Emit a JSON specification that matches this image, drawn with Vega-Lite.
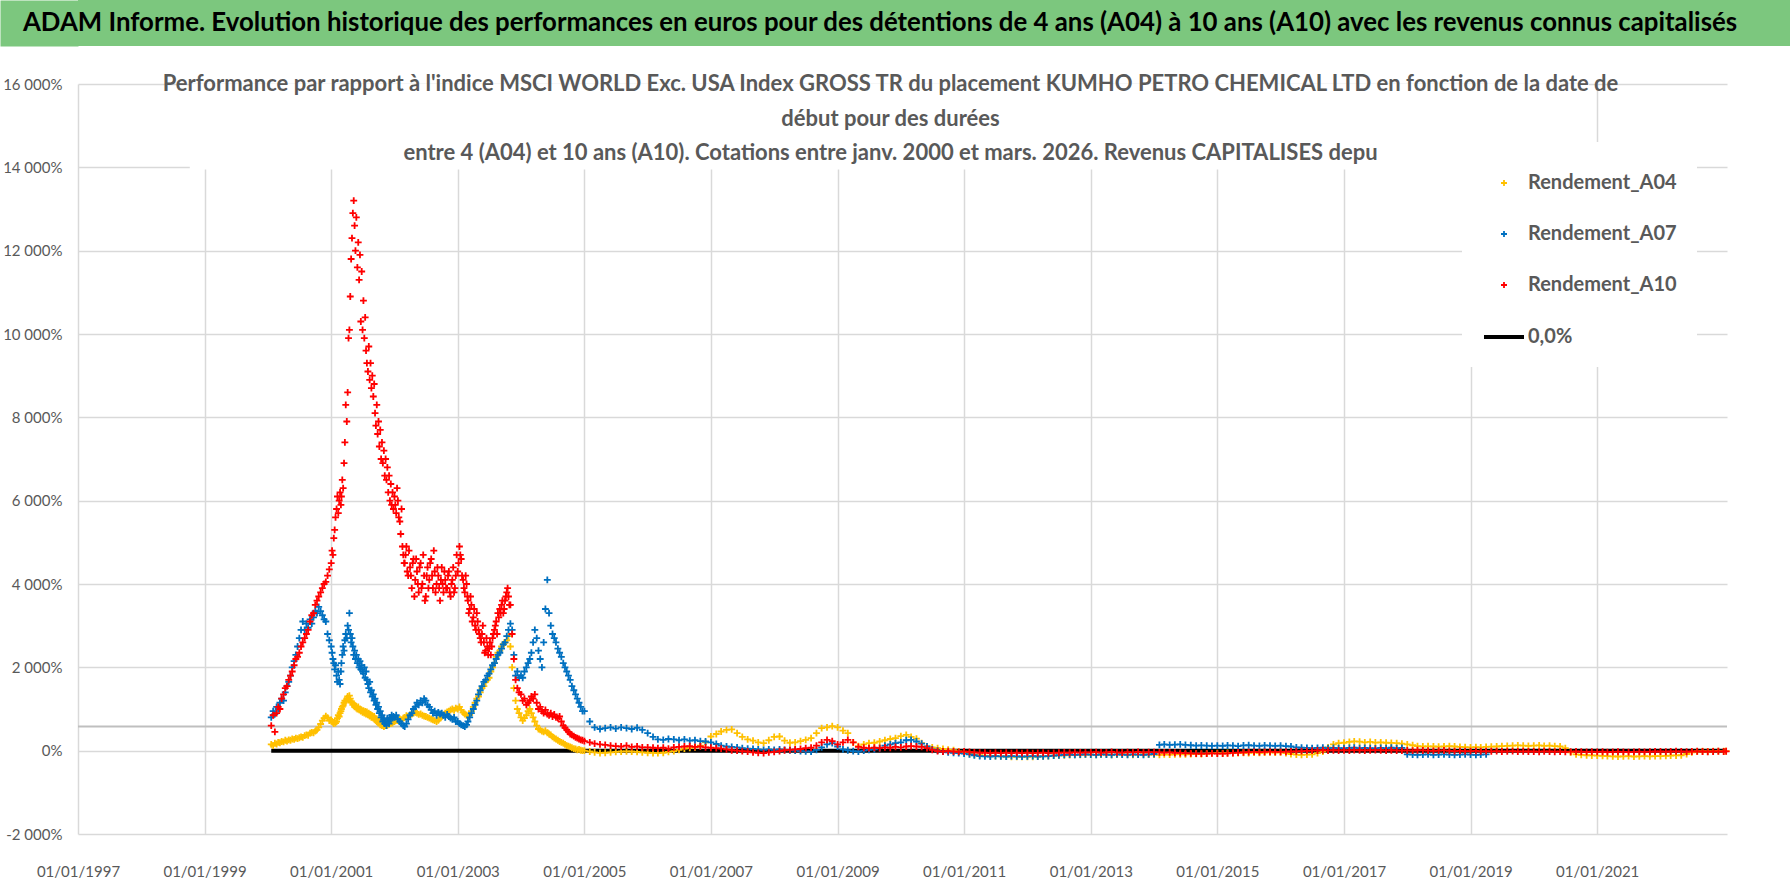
{
"$schema":"https://vega.github.io/schema/vega-lite/v6.json",
"padding":0,
"spacing":27,
"background":"white",
"config":{"view":{"stroke":null},"font":"Lato"},
"datasets":{
"zero":[{"d":"2000-01-21","v":0},{"d":"2023-01-15","v":0}],
"pts":[
{"d":"2000-01-21","A04":150,"A07":800,"A10":600},
{"d":"2000-02-01","A04":120,"A07":950,"A10":850},
{"d":"2000-02-11","A04":180,"A07":880,"A10":450},
{"d":"2000-02-21","A04":160,"A07":1050,"A10":900},
{"d":"2000-03-01","A04":200,"A07":1000,"A10":1050},
{"d":"2000-03-11","A04":190,"A07":1150,"A10":1000},
{"d":"2000-03-21","A04":220,"A07":1250,"A10":1250},
{"d":"2000-04-01","A04":210,"A07":1200,"A10":1350},
{"d":"2000-04-11","A04":250,"A07":1400,"A10":1500},
{"d":"2000-04-21","A04":230,"A07":1550,"A10":1550},
{"d":"2000-05-01","A04":260,"A07":1650,"A10":1700},
{"d":"2000-05-11","A04":250,"A07":1800,"A10":1800},
{"d":"2000-05-21","A04":280,"A07":2000,"A10":1900},
{"d":"2000-06-01","A04":270,"A07":2150,"A10":2050},
{"d":"2000-06-11","A04":300,"A07":2300,"A10":2200},
{"d":"2000-06-21","A04":290,"A07":2500,"A10":2250},
{"d":"2000-07-01","A04":310,"A07":2700,"A10":2350},
{"d":"2000-07-11","A04":330,"A07":2900,"A10":2500},
{"d":"2000-07-21","A04":320,"A07":3100,"A10":2600},
{"d":"2000-08-01","A04":360,"A07":2900,"A10":2700},
{"d":"2000-08-11","A04":380,"A07":3050,"A10":2800},
{"d":"2000-08-21","A04":370,"A07":2950,"A10":2900},
{"d":"2000-09-01","A04":420,"A07":3150,"A10":3100},
{"d":"2000-09-11","A04":440,"A07":3050,"A10":3250},
{"d":"2000-09-21","A04":430,"A07":3200,"A10":3300},
{"d":"2000-10-01","A04":470,"A07":3350,"A10":3500},
{"d":"2000-10-11","A04":500,"A07":3300,"A10":3600},
{"d":"2000-10-21","A04":560,"A07":3450,"A10":3700},
{"d":"2000-11-01","A04":640,"A07":3350,"A10":3800},
{"d":"2000-11-11","A04":720,"A07":3250,"A10":3900},
{"d":"2000-11-21","A04":780,"A07":3150,"A10":4000},
{"d":"2000-12-01","A04":830,"A07":3100,"A10":4050},
{"d":"2000-12-11","A04":790,"A07":2800,"A10":4200},
{"d":"2000-12-21","A04":720,"A07":2650,"A10":4350},
{"d":"2001-01-01","A04":740,"A07":2500,"A10":4500},
{"d":"2001-01-06","A04":700,"A07":2350,"A10":4800},
{"d":"2001-01-11","A04":680,"A07":2200,"A10":4700},
{"d":"2001-01-16","A04":650,"A07":2100,"A10":5100},
{"d":"2001-01-21","A04":690,"A07":1950,"A10":5300},
{"d":"2001-01-26","A04":660,"A07":2050,"A10":5600},
{"d":"2001-02-01","A04":700,"A07":1800,"A10":5800},
{"d":"2001-02-06","A04":780,"A07":1650,"A10":6100},
{"d":"2001-02-11","A04":850,"A07":1900,"A10":5700},
{"d":"2001-02-16","A04":820,"A07":1700,"A10":6000},
{"d":"2001-02-21","A04":900,"A07":1600,"A10":6200},
{"d":"2001-02-26","A04":950,"A07":1900,"A10":5900},
{"d":"2001-03-01","A04":1000,"A07":2100,"A10":6100},
{"d":"2001-03-06","A04":1050,"A07":2300,"A10":6500},
{"d":"2001-03-11","A04":1080,"A07":2500,"A10":6300},
{"d":"2001-03-16","A04":1150,"A07":2400,"A10":6900},
{"d":"2001-03-21","A04":1200,"A07":2650,"A10":7400},
{"d":"2001-03-26","A04":1180,"A07":2800,"A10":8300},
{"d":"2001-04-01","A04":1250,"A07":2700,"A10":7900},
{"d":"2001-04-06","A04":1300,"A07":3000,"A10":8600},
{"d":"2001-04-11","A04":1220,"A07":2900,"A10":9900},
{"d":"2001-04-16","A04":1320,"A07":3300,"A10":10100},
{"d":"2001-04-21","A04":1250,"A07":2800,"A10":10900},
{"d":"2001-04-26","A04":1180,"A07":2600,"A10":11800},
{"d":"2001-05-01","A04":1150,"A07":2700,"A10":12300},
{"d":"2001-05-06","A04":1100,"A07":2500,"A10":12900},
{"d":"2001-05-11","A04":1120,"A07":2300,"A10":13200},
{"d":"2001-05-16","A04":1050,"A07":2400,"A10":12600},
{"d":"2001-05-21","A04":1080,"A07":2200,"A10":12000},
{"d":"2001-05-26","A04":1020,"A07":2300,"A10":12800},
{"d":"2001-06-01","A04":1000,"A07":2100,"A10":11600},
{"d":"2001-06-06","A04":1050,"A07":2200,"A10":12200},
{"d":"2001-06-11","A04":980,"A07":2000,"A10":11300},
{"d":"2001-06-16","A04":1000,"A07":2150,"A10":11900},
{"d":"2001-06-21","A04":950,"A07":1950,"A10":10300},
{"d":"2001-06-26","A04":970,"A07":2050,"A10":11500},
{"d":"2001-07-01","A04":920,"A07":1900,"A10":10100},
{"d":"2001-07-06","A04":960,"A07":1850,"A10":10800},
{"d":"2001-07-11","A04":900,"A07":2000,"A10":9900},
{"d":"2001-07-16","A04":940,"A07":1750,"A10":10400},
{"d":"2001-07-21","A04":880,"A07":1900,"A10":9600},
{"d":"2001-07-26","A04":930,"A07":1700,"A10":9300},
{"d":"2001-08-01","A04":860,"A07":1600,"A10":9100},
{"d":"2001-08-06","A04":900,"A07":1500,"A10":9700},
{"d":"2001-08-11","A04":830,"A07":1650,"A10":8900},
{"d":"2001-08-16","A04":870,"A07":1400,"A10":9300},
{"d":"2001-08-21","A04":800,"A07":1450,"A10":8700},
{"d":"2001-08-26","A04":840,"A07":1300,"A10":9000},
{"d":"2001-09-01","A04":780,"A07":1350,"A10":8500},
{"d":"2001-09-06","A04":820,"A07":1200,"A10":8800},
{"d":"2001-09-11","A04":740,"A07":1250,"A10":8100},
{"d":"2001-09-16","A04":760,"A07":1100,"A10":7800},
{"d":"2001-09-21","A04":700,"A07":1150,"A10":8300},
{"d":"2001-09-26","A04":720,"A07":1000,"A10":7600},
{"d":"2001-10-01","A04":660,"A07":1050,"A10":7900},
{"d":"2001-10-06","A04":700,"A07":900,"A10":7300},
{"d":"2001-10-11","A04":620,"A07":950,"A10":7700},
{"d":"2001-10-16","A04":650,"A07":800,"A10":7000},
{"d":"2001-10-21","A04":600,"A07":850,"A10":7400},
{"d":"2001-10-26","A04":630,"A07":700,"A10":6900},
{"d":"2001-11-01","A04":580,"A07":750,"A10":7200},
{"d":"2001-11-06","A04":620,"A07":650,"A10":6600},
{"d":"2001-11-11","A04":600,"A07":700,"A10":7000},
{"d":"2001-11-16","A04":640,"A07":600,"A10":6500},
{"d":"2001-11-21","A04":610,"A07":780,"A10":6800},
{"d":"2001-11-26","A04":650,"A07":700,"A10":6200},
{"d":"2001-12-01","A04":630,"A07":650,"A10":6600},
{"d":"2001-12-06","A04":670,"A07":800,"A10":6000},
{"d":"2001-12-11","A04":650,"A07":750,"A10":6400},
{"d":"2001-12-16","A04":690,"A07":850,"A10":5900},
{"d":"2001-12-21","A04":660,"A07":780,"A10":6200},
{"d":"2001-12-26","A04":700,"A07":820,"A10":5800},
{"d":"2002-01-01","A04":700,"A07":800,"A10":6100},
{"d":"2002-01-06","A10":5900},
{"d":"2002-01-11","A04":730,"A07":850,"A10":5700},
{"d":"2002-01-16","A10":6300},
{"d":"2002-01-21","A04":720,"A07":750,"A10":6000},
{"d":"2002-01-26","A10":5600},
{"d":"2002-02-01","A04":760,"A07":700,"A10":5500},
{"d":"2002-02-06","A10":5200},
{"d":"2002-02-11","A04":740,"A07":650,"A10":5800},
{"d":"2002-02-16","A10":4900},
{"d":"2002-02-21","A04":780,"A07":600,"A10":4700},
{"d":"2002-02-26","A10":4500},
{"d":"2002-03-01","A04":800,"A07":580,"A10":4500},
{"d":"2002-03-06","A10":4700},
{"d":"2002-03-11","A04":840,"A07":650,"A10":4900},
{"d":"2002-03-16","A10":4300},
{"d":"2002-03-21","A04":820,"A07":750,"A10":4200},
{"d":"2002-03-26","A10":4800},
{"d":"2002-04-01","A04":860,"A07":850,"A10":4400},
{"d":"2002-04-06","A10":4200},
{"d":"2002-04-11","A04":880,"A07":900,"A10":3900},
{"d":"2002-04-16","A10":4500},
{"d":"2002-04-21","A04":900,"A07":1000,"A10":4600},
{"d":"2002-04-26","A10":3700},
{"d":"2002-05-01","A04":920,"A07":1050,"A10":4100},
{"d":"2002-05-06","A10":4600},
{"d":"2002-05-11","A04":900,"A07":1150,"A10":4300},
{"d":"2002-05-16","A10":4000},
{"d":"2002-05-21","A04":870,"A07":1100,"A10":3800},
{"d":"2002-05-26","A10":4400},
{"d":"2002-06-01","A04":880,"A07":1200,"A10":4500},
{"d":"2002-06-06","A10":3900},
{"d":"2002-06-11","A04":850,"A07":1150,"A10":4000},
{"d":"2002-06-16","A10":4700},
{"d":"2002-06-21","A04":830,"A07":1250,"A10":4200},
{"d":"2002-06-26","A10":3600},
{"d":"2002-07-01","A04":820,"A07":1200,"A10":3700},
{"d":"2002-07-06","A10":4200},
{"d":"2002-07-11","A04":800,"A07":1100,"A10":4400},
{"d":"2002-07-16","A10":3900},
{"d":"2002-07-21","A04":780,"A07":1050,"A10":4100},
{"d":"2002-07-26","A10":4500},
{"d":"2002-08-01","A04":760,"A07":980,"A10":4600},
{"d":"2002-08-06","A10":4200},
{"d":"2002-08-11","A04":740,"A07":900,"A10":3900},
{"d":"2002-08-16","A10":4800},
{"d":"2002-08-21","A04":720,"A07":950,"A10":4300},
{"d":"2002-08-26","A10":3800},
{"d":"2002-09-01","A04":700,"A07":850,"A10":4000},
{"d":"2002-09-06","A10":4400},
{"d":"2002-09-11","A04":730,"A07":920,"A10":4200},
{"d":"2002-09-16","A10":3900},
{"d":"2002-09-21","A04":780,"A07":880,"A10":3600},
{"d":"2002-09-26","A10":4100},
{"d":"2002-10-01","A04":820,"A07":900,"A10":4400},
{"d":"2002-10-06","A10":4000},
{"d":"2002-10-11","A04":860,"A07":850,"A10":3800},
{"d":"2002-10-16","A10":4300},
{"d":"2002-10-21","A04":900,"A07":800,"A10":4100},
{"d":"2002-10-26","A10":3900},
{"d":"2002-11-01","A04":930,"A07":870,"A10":3900},
{"d":"2002-11-06","A10":4200},
{"d":"2002-11-11","A04":950,"A07":820,"A10":4300},
{"d":"2002-11-16","A10":3800},
{"d":"2002-11-21","A04":980,"A07":780,"A10":3700},
{"d":"2002-11-26","A10":4000},
{"d":"2002-12-01","A04":1000,"A07":750,"A10":4100},
{"d":"2002-12-06","A10":4400},
{"d":"2002-12-11","A04":970,"A07":800,"A10":3800},
{"d":"2002-12-16","A10":3900},
{"d":"2002-12-21","A04":1020,"A07":700,"A10":4200},
{"d":"2002-12-26","A10":4700},
{"d":"2003-01-01","A04":1000,"A07":700,"A10":4300},
{"d":"2003-01-06","A10":4500},
{"d":"2003-01-11","A04":1050,"A07":650,"A10":4900},
{"d":"2003-01-16","A10":4700},
{"d":"2003-01-21","A04":980,"A07":620,"A10":4600},
{"d":"2003-01-26","A10":4200},
{"d":"2003-02-01","A04":920,"A07":600,"A10":4100},
{"d":"2003-02-06","A10":3900},
{"d":"2003-02-11","A04":880,"A07":580,"A10":3800},
{"d":"2003-02-16","A10":4200},
{"d":"2003-02-21","A04":850,"A07":620,"A10":4000},
{"d":"2003-02-26","A10":3700},
{"d":"2003-03-01","A04":830,"A07":700,"A10":3600},
{"d":"2003-03-06","A10":3300},
{"d":"2003-03-11","A04":860,"A07":800,"A10":3400},
{"d":"2003-03-16","A10":3700},
{"d":"2003-03-21","A04":950,"A07":900,"A10":3500},
{"d":"2003-03-26","A10":3100},
{"d":"2003-04-01","A04":1050,"A07":1000,"A10":3200},
{"d":"2003-04-06","A10":3400},
{"d":"2003-04-11","A04":1150,"A07":1100,"A10":3000},
{"d":"2003-04-16","A10":2900},
{"d":"2003-04-21","A04":1250,"A07":1200,"A10":3300},
{"d":"2003-04-26","A10":3100},
{"d":"2003-05-01","A04":1300,"A07":1350,"A10":2900},
{"d":"2003-05-06","A10":2800},
{"d":"2003-05-11","A04":1400,"A07":1450,"A10":2700},
{"d":"2003-05-16","A10":2600},
{"d":"2003-05-21","A04":1500,"A07":1550,"A10":2800},
{"d":"2003-05-26","A10":3000},
{"d":"2003-06-01","A04":1550,"A07":1650,"A10":2600},
{"d":"2003-06-06","A10":2350},
{"d":"2003-06-11","A04":1650,"A07":1700,"A10":2400},
{"d":"2003-06-16","A10":2700},
{"d":"2003-06-21","A04":1700,"A07":1800,"A10":2500},
{"d":"2003-06-26","A10":2300},
{"d":"2003-07-01","A04":1750,"A07":1850,"A10":2450},
{"d":"2003-07-06","A10":2600},
{"d":"2003-07-11","A04":1900,"A07":1950,"A10":2300},
{"d":"2003-07-16","A10":2500},
{"d":"2003-07-21","A04":2000,"A07":2050,"A10":2700},
{"d":"2003-07-26","A10":2800},
{"d":"2003-08-01","A04":2100,"A07":2100,"A10":2900},
{"d":"2003-08-06","A10":3000},
{"d":"2003-08-11","A04":2250,"A07":2200,"A10":3100},
{"d":"2003-08-16","A10":2800},
{"d":"2003-08-21","A04":2350,"A07":2300,"A10":3300},
{"d":"2003-08-26","A10":3200},
{"d":"2003-09-01","A04":2400,"A07":2350,"A10":3400},
{"d":"2003-09-06","A10":3300},
{"d":"2003-09-11","A04":2500,"A07":2450,"A10":3500},
{"d":"2003-09-16","A10":3600},
{"d":"2003-09-21","A04":2550,"A07":2550,"A10":3300},
{"d":"2003-09-26","A10":3400},
{"d":"2003-10-01","A04":2600,"A07":2600,"A10":3600},
{"d":"2003-10-06","A10":3700},
{"d":"2003-10-11","A04":2650,"A07":2750,"A10":3800},
{"d":"2003-10-16","A10":3900},
{"d":"2003-10-21","A04":2750,"A07":2900,"A10":3700},
{"d":"2003-10-26","A10":3500},
{"d":"2003-11-01","A04":2500,"A07":3050,"A10":3500},
{"d":"2003-11-11","A04":2000,"A07":2900,"A10":2800},
{"d":"2003-11-21","A04":1500,"A07":2300,"A10":2200},
{"d":"2003-12-01","A04":1200,"A07":1800,"A10":1700},
{"d":"2003-12-11","A04":1000,"A07":1900,"A10":1500},
{"d":"2003-12-21","A04":900,"A07":1750,"A10":1400},
{"d":"2004-01-01","A04":800,"A07":1800,"A10":1350},
{"d":"2004-01-11","A04":720,"A07":1750,"A10":1200},
{"d":"2004-01-21","A04":780,"A07":1900,"A10":1250},
{"d":"2004-02-01","A04":850,"A07":2000,"A10":1100},
{"d":"2004-02-11","A04":950,"A07":2100,"A10":1150},
{"d":"2004-02-21","A04":1000,"A07":2200,"A10":1200},
{"d":"2004-03-01","A04":900,"A07":2350,"A10":1300},
{"d":"2004-03-11","A04":800,"A07":2600,"A10":1250},
{"d":"2004-03-21","A04":700,"A07":2900,"A10":1350},
{"d":"2004-04-01","A04":600,"A07":2700,"A10":1150},
{"d":"2004-04-11","A04":520,"A07":2400,"A10":1000},
{"d":"2004-04-21","A04":500,"A07":2200,"A10":1050},
{"d":"2004-05-01","A04":470,"A07":2000,"A10":950},
{"d":"2004-05-11","A04":450,"A07":2600,"A10":900},
{"d":"2004-05-21","A04":480,"A07":3400,"A10":980},
{"d":"2004-06-01","A04":430,"A07":4100,"A10":880},
{"d":"2004-06-11","A04":400,"A07":3300,"A10":850},
{"d":"2004-06-21","A04":380,"A07":3000,"A10":900},
{"d":"2004-07-01","A04":330,"A07":2800,"A10":820},
{"d":"2004-07-11","A04":300,"A07":2700,"A10":870},
{"d":"2004-07-21","A04":280,"A07":2600,"A10":800},
{"d":"2004-08-01","A04":250,"A07":2450,"A10":780},
{"d":"2004-08-11","A04":220,"A07":2350,"A10":820},
{"d":"2004-08-21","A04":200,"A07":2250,"A10":700},
{"d":"2004-09-01","A04":180,"A07":2100,"A10":600},
{"d":"2004-09-11","A04":150,"A07":2000,"A10":550},
{"d":"2004-09-21","A04":120,"A07":1900,"A10":500},
{"d":"2004-10-01","A04":110,"A07":1800,"A10":450},
{"d":"2004-10-11","A04":90,"A07":1700,"A10":400},
{"d":"2004-10-21","A04":70,"A07":1550,"A10":380},
{"d":"2004-11-01","A04":50,"A07":1450,"A10":350},
{"d":"2004-11-11","A04":40,"A07":1350,"A10":320},
{"d":"2004-11-21","A04":20,"A07":1250,"A10":300},
{"d":"2004-12-01","A04":30,"A07":1150,"A10":280},
{"d":"2004-12-11","A04":10,"A07":1050,"A10":260},
{"d":"2004-12-21","A04":0,"A07":950,"A10":250},
{"d":"2005-01-01","A04":0,"A07":950,"A10":230},
{"d":"2005-02-01","A04":-20,"A07":700,"A10":200},
{"d":"2005-03-01","A04":-40,"A07":560,"A10":170},
{"d":"2005-04-01","A04":-55,"A07":520,"A10":150},
{"d":"2005-05-01","A04":-50,"A07":540,"A10":140},
{"d":"2005-06-01","A04":-40,"A07":560,"A10":120},
{"d":"2005-07-01","A04":-30,"A07":530,"A10":110},
{"d":"2005-08-01","A04":-20,"A07":560,"A10":100},
{"d":"2005-09-01","A04":-15,"A07":540,"A10":120},
{"d":"2005-10-01","A04":-20,"A07":520,"A10":90},
{"d":"2005-11-01","A04":-30,"A07":550,"A10":100},
{"d":"2005-12-01","A04":-40,"A07":500,"A10":80},
{"d":"2006-01-01","A04":-50,"A07":420,"A10":80},
{"d":"2006-02-01","A04":-55,"A07":330,"A10":70},
{"d":"2006-03-01","A04":-60,"A07":270,"A10":60},
{"d":"2006-04-01","A04":-50,"A07":260,"A10":70},
{"d":"2006-05-01","A04":-30,"A07":280,"A10":50},
{"d":"2006-06-01","A04":-10,"A07":270,"A10":80},
{"d":"2006-07-01","A04":20,"A07":250,"A10":90},
{"d":"2006-08-01","A04":50,"A07":270,"A10":100},
{"d":"2006-09-01","A04":70,"A07":240,"A10":110},
{"d":"2006-10-01","A04":80,"A07":250,"A10":90},
{"d":"2006-11-01","A04":120,"A07":230,"A10":100},
{"d":"2006-12-01","A04":200,"A07":220,"A10":80},
{"d":"2007-01-01","A04":340,"A07":200,"A10":70},
{"d":"2007-02-01","A04":400,"A07":160,"A10":60},
{"d":"2007-03-01","A04":460,"A07":120,"A10":50},
{"d":"2007-04-01","A04":500,"A07":100,"A10":30},
{"d":"2007-05-01","A04":510,"A07":90,"A10":10},
{"d":"2007-06-01","A04":420,"A07":80,"A10":0},
{"d":"2007-07-01","A04":330,"A07":60,"A10":-10},
{"d":"2007-08-01","A04":270,"A07":50,"A10":-20},
{"d":"2007-09-01","A04":240,"A07":40,"A10":-40},
{"d":"2007-10-01","A04":200,"A07":30,"A10":-50},
{"d":"2007-11-01","A04":180,"A07":20,"A10":-60},
{"d":"2007-12-01","A04":250,"A07":30,"A10":-40},
{"d":"2008-01-01","A04":330,"A07":20,"A10":-30},
{"d":"2008-02-01","A04":340,"A07":30,"A10":-10},
{"d":"2008-03-01","A04":240,"A07":20,"A10":10},
{"d":"2008-04-01","A04":190,"A07":10,"A10":20},
{"d":"2008-05-01","A04":200,"A07":0,"A10":30},
{"d":"2008-06-01","A04":230,"A07":-10,"A10":40},
{"d":"2008-07-01","A04":260,"A07":-15,"A10":60},
{"d":"2008-08-01","A04":300,"A07":-20,"A10":70},
{"d":"2008-09-01","A04":420,"A07":20,"A10":120},
{"d":"2008-10-01","A04":540,"A07":80,"A10":200},
{"d":"2008-11-01","A04":560,"A07":150,"A10":260},
{"d":"2008-12-01","A04":590,"A07":180,"A10":230},
{"d":"2009-01-01","A04":560,"A07":100,"A10":150},
{"d":"2009-02-01","A04":480,"A07":30,"A10":200},
{"d":"2009-03-01","A04":420,"A07":10,"A10":260},
{"d":"2009-04-01","A04":200,"A07":-10,"A10":200},
{"d":"2009-05-01","A04":110,"A07":-20,"A10":90},
{"d":"2009-06-01","A04":150,"A07":0,"A10":70},
{"d":"2009-07-01","A04":180,"A07":20,"A10":60},
{"d":"2009-08-01","A04":190,"A07":30,"A10":70},
{"d":"2009-09-01","A04":220,"A07":60,"A10":60},
{"d":"2009-10-01","A04":250,"A07":120,"A10":80},
{"d":"2009-11-01","A04":280,"A07":150,"A10":70},
{"d":"2009-12-01","A04":300,"A07":180,"A10":90},
{"d":"2010-01-01","A04":350,"A07":200,"A10":80},
{"d":"2010-02-01","A04":380,"A07":250,"A10":100},
{"d":"2010-03-01","A04":330,"A07":260,"A10":110},
{"d":"2010-04-01","A04":290,"A07":220,"A10":100},
{"d":"2010-05-01","A04":180,"A07":170,"A10":90},
{"d":"2010-06-01","A04":100,"A07":100,"A10":60},
{"d":"2010-07-01","A04":80,"A07":30,"A10":20},
{"d":"2010-08-01","A04":60,"A07":0,"A10":-10},
{"d":"2010-09-01","A04":40,"A07":-20,"A10":-20},
{"d":"2010-10-01","A04":25,"A07":-40,"A10":-10},
{"d":"2010-11-01","A04":10,"A07":-50,"A10":-20},
{"d":"2010-12-01","A04":-20,"A07":-60,"A10":-30},
{"d":"2011-01-01","A04":-50,"A07":-70,"A10":-20},
{"d":"2011-02-01","A04":-80,"A07":-90,"A10":-30},
{"d":"2011-03-01","A04":-100,"A07":-110,"A10":-40},
{"d":"2011-04-01","A04":-110,"A07":-130,"A10":-50},
{"d":"2011-05-01","A04":-120,"A07":-135,"A10":-50},
{"d":"2011-06-01","A04":-125,"A07":-140,"A10":-60},
{"d":"2011-07-01","A04":-130,"A07":-130,"A10":-50},
{"d":"2011-08-01","A04":-135,"A07":-135,"A10":-60},
{"d":"2011-09-01","A04":-140,"A07":-140,"A10":-50},
{"d":"2011-10-01","A04":-145,"A07":-130,"A10":-60},
{"d":"2011-11-01","A04":-150,"A07":-135,"A10":-50},
{"d":"2011-12-01","A04":-150,"A07":-140,"A10":-60},
{"d":"2012-01-01","A04":-150,"A07":-135,"A10":-50},
{"d":"2012-02-01","A04":-145,"A07":-130,"A10":-60},
{"d":"2012-03-01","A04":-140,"A07":-140,"A10":-55},
{"d":"2012-04-01","A04":-135,"A07":-135,"A10":-50},
{"d":"2012-05-01","A04":-130,"A07":-130,"A10":-60},
{"d":"2012-06-01","A04":-120,"A07":-120,"A10":-55},
{"d":"2012-07-01","A04":-115,"A07":-110,"A10":-50},
{"d":"2012-08-01","A04":-110,"A07":-100,"A10":-45},
{"d":"2012-09-01","A04":-105,"A07":-95,"A10":-50},
{"d":"2012-10-01","A04":-100,"A07":-100,"A10":-40},
{"d":"2012-11-01","A04":-100,"A07":-95,"A10":-45},
{"d":"2012-12-01","A04":-95,"A07":-90,"A10":-40},
{"d":"2013-01-01","A04":-95,"A07":-95,"A10":-40},
{"d":"2013-02-01","A04":-100,"A07":-100,"A10":-35},
{"d":"2013-03-01","A04":-95,"A07":-90,"A10":-45},
{"d":"2013-04-01","A04":-90,"A07":-95,"A10":-40},
{"d":"2013-05-01","A04":-100,"A07":-100,"A10":-30},
{"d":"2013-06-01","A04":-95,"A07":-90,"A10":-40},
{"d":"2013-07-01","A04":-90,"A07":-95,"A10":-45},
{"d":"2013-08-01","A04":-95,"A07":-100,"A10":-35},
{"d":"2013-09-01","A04":-100,"A07":-90,"A10":-40},
{"d":"2013-10-01","A04":-95,"A07":-95,"A10":-30},
{"d":"2013-11-01","A04":-90,"A07":-100,"A10":-40},
{"d":"2013-12-01","A04":-95,"A07":-90,"A10":-35},
{"d":"2014-01-01","A04":-95,"A07":-80,"A10":-35},
{"d":"2014-02-01","A04":-100,"A07":140,"A10":-40},
{"d":"2014-03-01","A04":-90,"A07":150,"A10":-45},
{"d":"2014-04-01","A04":-95,"A07":140,"A10":-40},
{"d":"2014-05-01","A04":-90,"A07":145,"A10":-50},
{"d":"2014-06-01","A04":-85,"A07":150,"A10":-55},
{"d":"2014-07-01","A04":-90,"A07":140,"A10":-60},
{"d":"2014-08-01","A04":-80,"A07":130,"A10":-65},
{"d":"2014-09-01","A04":-75,"A07":120,"A10":-70},
{"d":"2014-10-01","A04":-80,"A07":125,"A10":-72},
{"d":"2014-11-01","A04":-70,"A07":120,"A10":-70},
{"d":"2014-12-01","A04":-65,"A07":115,"A10":-65},
{"d":"2015-01-01","A04":-60,"A07":120,"A10":-70},
{"d":"2015-02-01","A04":-65,"A07":115,"A10":-72},
{"d":"2015-03-01","A04":-55,"A07":125,"A10":-65},
{"d":"2015-04-01","A04":-60,"A07":120,"A10":-55},
{"d":"2015-05-01","A04":-55,"A07":110,"A10":-45},
{"d":"2015-06-01","A04":-50,"A07":125,"A10":-40},
{"d":"2015-07-01","A04":-55,"A07":130,"A10":-35},
{"d":"2015-08-01","A04":-45,"A07":120,"A10":-30},
{"d":"2015-09-01","A04":-50,"A07":115,"A10":-35},
{"d":"2015-10-01","A04":-45,"A07":125,"A10":-30},
{"d":"2015-11-01","A04":-40,"A07":120,"A10":-25},
{"d":"2015-12-01","A04":-45,"A07":115,"A10":-30},
{"d":"2016-01-01","A04":-40,"A07":120,"A10":-30},
{"d":"2016-02-01","A04":-60,"A07":110,"A10":-25},
{"d":"2016-03-01","A04":-80,"A07":100,"A10":-20},
{"d":"2016-04-01","A04":-96,"A07":80,"A10":-15},
{"d":"2016-05-01","A04":-100,"A07":70,"A10":-10},
{"d":"2016-06-01","A04":-95,"A07":65,"A10":-5},
{"d":"2016-07-01","A04":-90,"A07":60,"A10":0},
{"d":"2016-08-01","A04":-60,"A07":65,"A10":5},
{"d":"2016-09-01","A04":-20,"A07":70,"A10":10},
{"d":"2016-10-01","A04":80,"A07":60,"A10":5},
{"d":"2016-11-01","A04":150,"A07":65,"A10":10},
{"d":"2016-12-01","A04":180,"A07":60,"A10":5},
{"d":"2017-01-01","A04":190,"A07":60,"A10":10},
{"d":"2017-02-01","A04":210,"A07":65,"A10":5},
{"d":"2017-03-01","A04":224,"A07":70,"A10":15},
{"d":"2017-04-01","A04":215,"A07":60,"A10":10},
{"d":"2017-05-01","A04":200,"A07":65,"A10":5},
{"d":"2017-06-01","A04":210,"A07":60,"A10":10},
{"d":"2017-07-01","A04":195,"A07":55,"A10":15},
{"d":"2017-08-01","A04":200,"A07":65,"A10":10},
{"d":"2017-09-01","A04":190,"A07":60,"A10":5},
{"d":"2017-10-01","A04":185,"A07":70,"A10":10},
{"d":"2017-11-01","A04":180,"A07":60,"A10":5},
{"d":"2017-12-01","A04":170,"A07":65,"A10":0},
{"d":"2018-01-01","A04":150,"A07":-90,"A10":5},
{"d":"2018-02-01","A04":130,"A07":-95,"A10":0},
{"d":"2018-03-01","A04":110,"A07":-100,"A10":10},
{"d":"2018-04-01","A04":100,"A07":-95,"A10":5},
{"d":"2018-05-01","A04":105,"A07":-90,"A10":0},
{"d":"2018-06-01","A04":100,"A07":-100,"A10":-5},
{"d":"2018-07-01","A04":95,"A07":-95,"A10":0},
{"d":"2018-08-01","A04":100,"A07":-90,"A10":5},
{"d":"2018-09-01","A04":110,"A07":-95,"A10":-5},
{"d":"2018-10-01","A04":100,"A07":-100,"A10":-10},
{"d":"2018-11-01","A04":90,"A07":-95,"A10":-5},
{"d":"2018-12-01","A04":85,"A07":-90,"A10":-10},
{"d":"2019-01-01","A04":80,"A07":-95,"A10":-10},
{"d":"2019-02-01","A04":85,"A07":-100,"A10":-5},
{"d":"2019-03-01","A04":80,"A07":-95,"A10":-15},
{"d":"2019-04-01","A04":90,"A07":-90,"A10":-10},
{"d":"2019-05-01","A04":95,"A10":-15},
{"d":"2019-06-01","A04":100,"A10":-10},
{"d":"2019-07-01","A04":110,"A10":-20},
{"d":"2019-08-01","A04":115,"A10":-15},
{"d":"2019-09-01","A04":120,"A10":-10},
{"d":"2019-10-01","A04":125,"A10":-20},
{"d":"2019-11-01","A04":120,"A10":-15},
{"d":"2019-12-01","A04":115,"A10":-20},
{"d":"2020-01-01","A04":120,"A10":-20},
{"d":"2020-02-01","A04":125,"A10":-25},
{"d":"2020-03-01","A04":115,"A10":-15},
{"d":"2020-04-01","A04":120,"A10":-20},
{"d":"2020-05-01","A04":110,"A10":-25},
{"d":"2020-06-01","A04":100,"A10":-20},
{"d":"2020-07-01","A04":60,"A10":-30},
{"d":"2020-08-01","A04":-40,"A10":-25},
{"d":"2020-09-01","A04":-90,"A10":-20},
{"d":"2020-10-01","A04":-100,"A10":-25},
{"d":"2020-11-01","A04":-110,"A10":-30},
{"d":"2020-12-01","A04":-115,"A10":-25},
{"d":"2021-01-01","A04":-120,"A10":-30},
{"d":"2021-02-01","A04":-125,"A10":-25},
{"d":"2021-03-01","A04":-130,"A10":-35},
{"d":"2021-04-01","A04":-135,"A10":-30},
{"d":"2021-05-01","A04":-140,"A10":-25},
{"d":"2021-06-01","A04":-135,"A10":-30},
{"d":"2021-07-01","A04":-130,"A10":-35},
{"d":"2021-08-01","A04":-140,"A10":-30},
{"d":"2021-09-01","A04":-135,"A10":-25},
{"d":"2021-10-01","A04":-130,"A10":-30},
{"d":"2021-11-01","A04":-135,"A10":-25},
{"d":"2021-12-01","A04":-130,"A10":-20},
{"d":"2022-01-01","A04":-130,"A10":-20},
{"d":"2022-02-01","A04":-125,"A10":-25},
{"d":"2022-03-01","A04":-120,"A10":-20},
{"d":"2022-04-01","A04":-115,"A10":-15},
{"d":"2022-05-01","A04":-110,"A10":-20},
{"d":"2022-06-01","A04":-80,"A10":-25},
{"d":"2022-07-01","A04":-40,"A10":-20},
{"d":"2022-08-01","A04":-20,"A10":-15},
{"d":"2022-09-01","A04":-15,"A10":-20},
{"d":"2022-10-01","A04":-20,"A10":-25},
{"d":"2022-11-01","A04":-15,"A10":-20},
{"d":"2022-12-01","A04":-10,"A10":-15},
{"d":"2023-01-01","A04":-15,"A10":-20},
{"d":"2023-01-15","A04":-10,"A10":-15}
]},
"vconcat":[
{
"width":1712,"height":46,
"view":{"fill":"#7CC77E","stroke":null},
"data":{"values":[{"t":"ADAM Informe. Evolution historique des performances en euros pour des détentions de 4 ans (A04) à 10 ans (A10) avec les revenus connus capitalisés"}]},
"mark":{"type":"text","font":"Lato","fontWeight":"bold","fontSize":25.8,"color":"#000000","dx":-54},
"encoding":{
"text":{"field":"t"},
"y":{"datum":0,"type":"quantitative","scale":{"domain":[-1,1]},
"axis":{"domain":true,"domainColor":"#7CC77E","domainWidth":78,"domainCap":"butt","offset":39,"labels":false,"ticks":false,"grid":false,"title":null}}
}
},
{
"width":1649,"height":750,
"title":{"text":["Performance par rapport à l'indice MSCI WORLD Exc. USA Index GROSS TR  du placement KUMHO PETRO CHEMICAL LTD en fonction de la date de","début pour des durées","entre 4 (A04) et 10 ans (A10). Cotations entre janv. 2000 et mars. 2026. Revenus CAPITALISES depu"],"anchor":"middle","frame":"group","offset":-88,"font":"Lato","fontSize":22,"fontWeight":"bold","color":"#595959","lineHeight":34.5,"dx":-12},
"layer":[
{
"data":{"values":[{}]},
"mark":{"type":"rule","color":"#BFBFBF","strokeWidth":2},
"encoding":{"y":{"datum":580,"type":"quantitative"}}
},
{
"data":{"name":"zero"},
"mark":{"type":"line","strokeWidth":4,"color":"#000000"},
"encoding":{
"x":{"field":"d","type":"temporal","scale":{"type":"utc"},"title":null},
"y":{"field":"v","type":"quantitative","title":null}
}
},
{
"data":{"name":"pts"},
"transform":[{"fold":["A04","A07","A10"],"as":["k","v"]},{"filter":"isValid(datum.v)"}],
"mark":{"type":"point","filled":false,"size":2100,"opacity":1},
"encoding":{
"x":{"field":"d","type":"temporal","title":null,
"scale":{"type":"utc","domain":[{"year":1997,"month":1,"date":1,"utc":true},{"year":2023,"month":1,"date":20,"utc":true}]},
"axis":{"values":[{"year":1997,"month":1,"date":1,"utc":true},{"year":1999,"month":1,"date":1,"utc":true},{"year":2001,"month":1,"date":1,"utc":true},{"year":2003,"month":1,"date":1,"utc":true},{"year":2005,"month":1,"date":1,"utc":true},{"year":2007,"month":1,"date":1,"utc":true},{"year":2009,"month":1,"date":1,"utc":true},{"year":2011,"month":1,"date":1,"utc":true},{"year":2013,"month":1,"date":1,"utc":true},{"year":2015,"month":1,"date":1,"utc":true},{"year":2017,"month":1,"date":1,"utc":true},{"year":2019,"month":1,"date":1,"utc":true},{"year":2021,"month":1,"date":1,"utc":true}],
"labelExpr":"utcFormat(datum.value, '%d/%m/%Y')","labelFont":"Lato","labelFontSize":15,"labelColor":"#595959","labelPadding":30,"ticks":false,"tickSize":0,"domain":false,"grid":true,"gridColor":"#D9D9D9","gridWidth":1.5,"labelFlush":false,"labelOverlap":false}},
"y":{"field":"v","type":"quantitative","title":null,
"scale":{"domain":[-2000,16000],"nice":false,"zero":false},
"axis":{"values":[-2000,0,2000,4000,6000,8000,10000,12000,14000,16000],
"labelExpr":"(datum.value < 0 ? '-' : '') + replace(format(abs(datum.value), ','), ',', ' ') + '%'",
"labelFont":"Lato","labelFontSize":15,"labelColor":"#595959","labelPadding":16,"ticks":false,"tickSize":0,"domain":false,"grid":true,"gridColor":"#D9D9D9","gridWidth":1.5,"minExtent":78,"maxExtent":78}},
"color":{"field":"k","type":"nominal",
"scale":{"domain":["A04","A07","A10","0,0%"],"range":["#FFC000","#0070C0","#FF0000","#000000"]},
"legend":{"orient":"none","legendX":1384,"legendY":142,"title":null,"fillColor":"white","padding":20,
"symbolSize":1600,"rowPadding":20,"labelOffset":2,"labelFont":"Lato","labelFontSize":20,"labelFontWeight":"bold","labelColor":"#595959",
"labelExpr":"datum.value === '0,0%' ? '0,0%' : 'Rendement_' + datum.value"}},
"shape":{"field":"k","type":"nominal",
"scale":{"domain":["A04","A07","A10","0,0%"],"range":["M-0.15,0H0.15M0,-0.15V0.15","M-0.15,0H0.15M0,-0.15V0.15","M-0.15,0H0.15M0,-0.15V0.15","stroke"]}},
"strokeWidth":{"field":"k","type":"nominal",
"scale":{"type":"ordinal","domain":["A04","A07","A10","0,0%"],"range":[1.8,1.8,1.8,4]}},
"order":{"field":"k","type":"ordinal"}
}
},
{
"data":{"values":[{}]},
"mark":{"type":"rect","fill":"white","stroke":null},
"encoding":{
"x":{"datum":{"year":1998,"month":10,"date":8,"utc":true},"type":"temporal","scale":{"type":"utc"}},
"x2":{"datum":{"year":2020,"month":11,"date":14,"utc":true}},
"y":{"datum":13950,"type":"quantitative"},
"y2":{"datum":16000}
}
}
]
}
]
}
